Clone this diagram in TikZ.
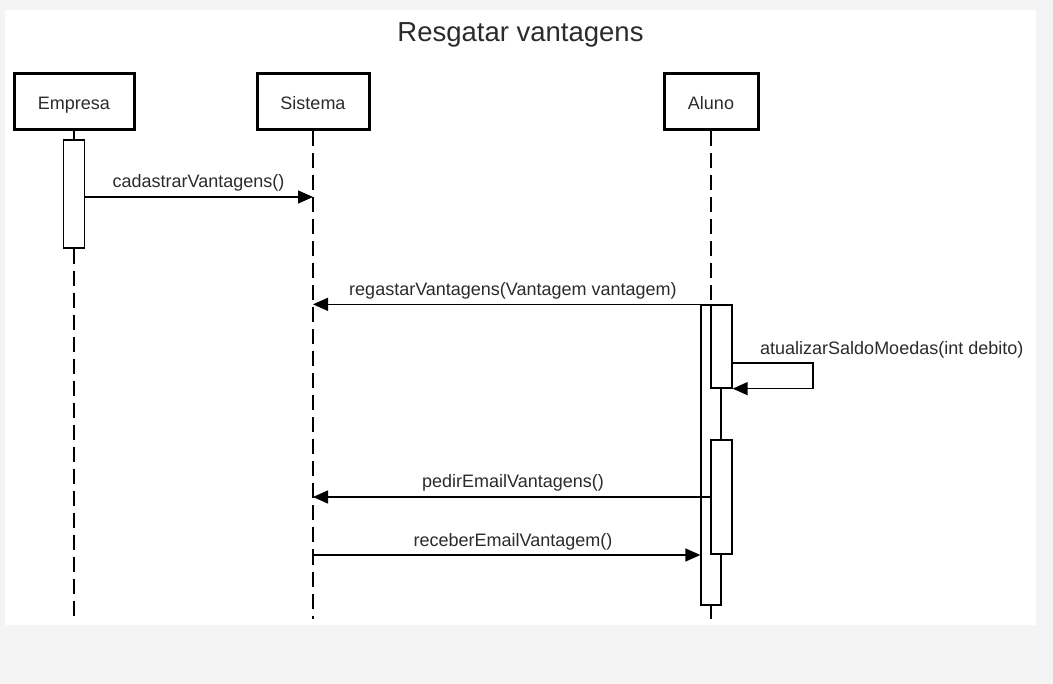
\documentclass[tikz,border=0pt]{standalone}
\usepackage{fontspec}
\setmainfont{Liberation Sans}
\usetikzlibrary{arrows.meta}
\definecolor{pagebg}{HTML}{F4F4F4}
\definecolor{txt}{HTML}{2B2B2B}
\tikzset{
  head/.style={draw=black, line width=3pt, fill=white, minimum height=56pt, inner sep=0pt, text height=15pt, text depth=0pt, text=txt, font=\fontsize{18}{20}\selectfont},
  actbox/.style={draw=black, line width=1.3pt, fill=white, inner sep=0pt, minimum width=21pt},
  lifeline/.style={draw=black, line width=1.4pt, dash pattern=on 15pt off 7pt},
  solidline/.style={draw=black, line width=1.4pt},
  msg/.style={draw=black, line width=1.4pt, -{Triangle[length=15pt,width=13pt]}},
  msglabel/.style={anchor=base, inner sep=0pt, text=txt, font=\fontsize{18}{20}\selectfont},
}
\begin{document}
\begin{tikzpicture}[x=1pt,y=-1pt]
\fill[pagebg] (0,0) rectangle (1053,684);
\fill[white] (5,10) rectangle (1036,625);
\useasboundingbox (0,0) rectangle (1053,684);

\node[msglabel, font=\fontsize{27.5}{30}\selectfont] (title) at (520.5,42) {Resgatar vantagens};

% lifeline heads
\node[head, minimum width=120pt] (emp) at (74,102) {Empresa};
\node[head, minimum width=112pt] (sis) at (313,102) {Sistema};
\node[head, minimum width=94pt] (alu) at (711,102) {Aluno};

% lifeline ends
\coordinate (empEnd) at (74,619);
\coordinate (sisEnd) at (313,619);
\coordinate (aluEnd) at (711,619);

% activation boxes
\node[actbox, minimum height=108pt] (actE) at (74,194) {};
\node[actbox, minimum width=20pt, minimum height=300pt] (actA) at (711,455) {};

% lifelines
\draw[solidline] (emp.south) -- (actE.north);
\draw[lifeline] (actE.south) -- (empEnd);
\draw[lifeline] (sis.south) -- (sisEnd);
\draw[lifeline] (alu.south) -- (actA.north);
\draw[solidline] (actA.south) -- (aluEnd);

% redraw A on top of lifeline
\node[actbox, minimum width=20pt, minimum height=300pt] at (711,455) {};
\node[actbox, minimum height=83pt] (actB) at (721.5,346.5) {};
\node[actbox, minimum height=114pt] (actC) at (721.5,497) {};

% message rows
\coordinate (r1) at (0,197);
\coordinate (r3) at (0,363);
\coordinate (r4) at (0,497);
\coordinate (r5) at (0,555);
\coordinate (loopR) at (813,363);

% messages
\draw[msg] (actE.east |- r1) -- (sis |- r1);
\node[msglabel] (l1) at (198.5,188) {cadastrarVantagens()};

\draw[msg] (actA.north west) -- (sis |- actA.north);
\node[msglabel] (l2) at (513,296) {regastarVantagens(Vantagem vantagem)};

\draw[msg] (actB.east |- r3) -- (loopR) |- (actB.south east);
\node[msglabel, anchor=base west] (l3) at (760,355) {atualizarSaldoMoedas(int debito)};

\draw[msg] (actC.west |- r4) -- (sis |- r4);
\node[msglabel] (l4) at (513,488) {pedirEmailVantagens()};

\draw[msg] (sis |- r5) -- (actA.west |- r5);
\node[msglabel] (l5) at (513,547) {receberEmailVantagem()};
\end{tikzpicture}
\end{document}
